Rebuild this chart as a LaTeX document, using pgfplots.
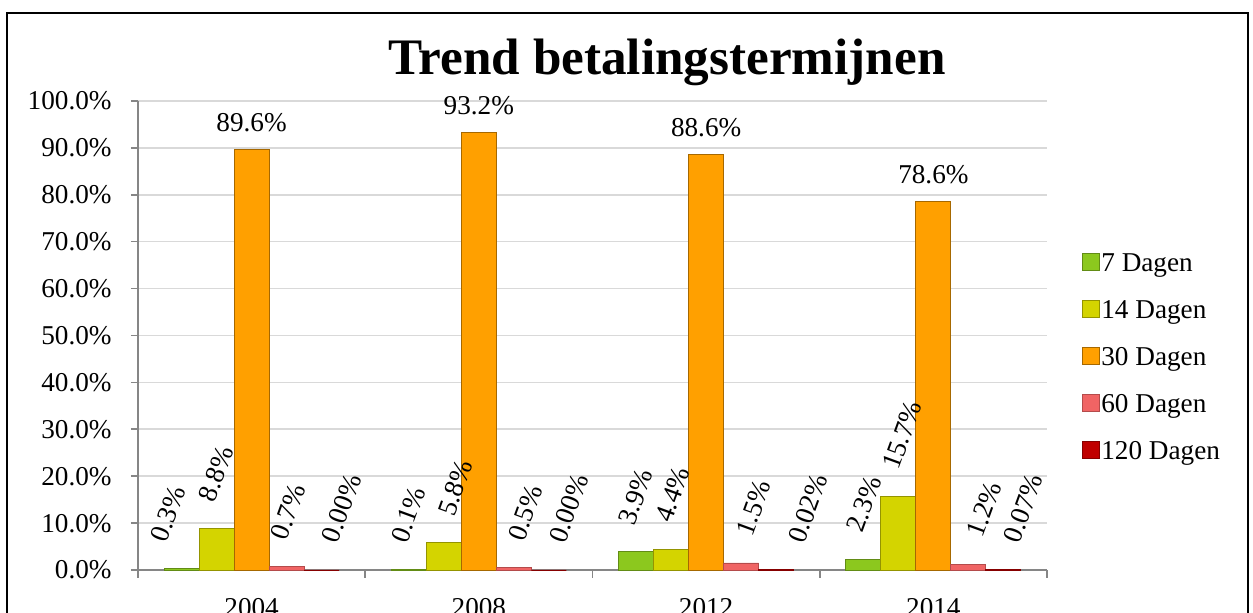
\documentclass[border=0pt]{standalone}
\usepackage{fontspec}
\setmainfont{Liberation Serif}
\usepackage{pgfplots}
\usepackage{pgfplotstable}
\pgfplotsset{compat=1.18}
\definecolor{d7}{HTML}{8CC81E}
\definecolor{d14}{HTML}{D4D400}
\definecolor{d30}{HTML}{FFA000}
\definecolor{d60}{HTML}{F06464}
\definecolor{d120}{HTML}{C00000}
\definecolor{axgray}{HTML}{868686}
\definecolor{gridgray}{HTML}{D9D9D9}

% x = category, y = percentage, dx = label shift (pt)
\pgfplotstableread{
x y dx
0 0.3 -7.5
1 0.1 -1
2 3.9 -1
3 2.3 -0.5
}\dseven
\pgfplotstableread{
x y dx
0 8.8 -1
1 5.8 5
2 4.4 0
3 15.7 0
}\dfourteen
\pgfplotstableread{
x y dx
0 89.6 0
1 93.2 0
2 88.6 0
3 78.6 0
}\dthirty
\pgfplotstableread{
x y dx
0 0.7 0
1 0.5 5
2 1.5 5.5
3 1.2 7
}\dsixty
\pgfplotstableread{
x y dx
0 0.00 8
1 0.00 8
2 0.02 14
3 0.07 8
}\dhundredtwenty

\newcommand{\lbl}{\fontsize{13.6}{16}\selectfont}
\pgfplotsset{
  rotlabel/.style={point meta=y,
    visualization depends on={\thisrow{dx} \as \dx},
    nodes near coords={\pgfmathprintnumber[fixed,fixed zerofill,precision=#1]{\pgfplotspointmeta}\%},
    every node near coord/.append style={font=\lbl, inner sep=0pt,
      anchor=base west, xshift=\dx pt, yshift=12.5pt, rotate=70}},
  flatlabel/.style={point meta=y,
    nodes near coords={\pgfmathprintnumber[fixed,fixed zerofill,precision=1]{\pgfplotspointmeta}\%},
    every node near coord/.append style={font=\lbl, inner sep=0pt,
      anchor=base, yshift=9pt}},
}

\begin{document}
\begin{tikzpicture}
\useasboundingbox (0,0) rectangle (626.5pt,306.5pt);
\draw[black, line width=0.7pt] (3.5pt,300pt) rectangle (624pt,-10pt);
\begin{axis}[
    at={(69pt,21.5pt)}, anchor=south west,
    scale only axis,
    width=454.5pt, height=234.5pt,
    ybar=0pt, bar width=17.5pt,
    xmin=-0.5, xmax=3.5, ymin=0, ymax=100,
    axis x line*=bottom, axis y line*=left,
    axis line style={axgray, line width=0.8pt, -},
    xtick={0,1,2,3},
    xticklabels={2004,2008,2012,2014},
    major x tick style={draw=none},
    minor xtick={-0.5,0.5,1.5,2.5,3.5},
    minor x tick style={axgray, line width=0.8pt},
    minor tick length=4pt,
    ytick={0,10,...,100},
    yticklabels={0.0\%,10.0\%,20.0\%,30.0\%,40.0\%,50.0\%,60.0\%,70.0\%,80.0\%,90.0\%,100.0\%},
    major y tick style={axgray, line width=0.8pt},
    major tick length=3.5pt,
    tick align=outside,
    ymajorgrids, grid style={gridgray, line width=0.8pt},
    /pgf/number format/assume math mode=true,
    yticklabel style={font=\lbl, inner sep=0pt, anchor=base east, xshift=-9.5pt, yshift=-4.5pt},
    xticklabel style={font=\lbl, inner sep=0pt, anchor=base, yshift=-20pt},
    clip=false,
    title={\bfseries Trend betalingstermijnen},
    title style={font=\fontsize{25.6}{30}\selectfont, at={(0.582,1.051)}, anchor=base, yshift=-4.5pt, inner sep=0pt},
    legend style={draw=none, fill=none, at={(1.031,0.689)}, anchor=north west,
      font=\lbl, row sep=11pt, nodes={inner sep=1pt}},
    legend cell align=left,
    legend image code/.code={\draw[#1, bar shift=0pt] (0pt,-3.5pt) rectangle (8.5pt,5pt);},
]
\addplot[fill=d7, draw=d7!70!black, rotlabel=1] table[x=x, y=y] {\dseven};
\addlegendentry{7 Dagen}
\addplot[fill=d14, draw=d14!70!black, rotlabel=1] table[x=x, y=y] {\dfourteen};
\addlegendentry{14 Dagen}
\addplot[fill=d30, draw=d30!65!black, flatlabel] table[x=x, y=y] {\dthirty};
\addlegendentry{30 Dagen}
\addplot[fill=d60, draw=d60!75!black, rotlabel=1] table[x=x, y=y] {\dsixty};
\addlegendentry{60 Dagen}
\addplot[fill=d120, draw=d120!70!black, rotlabel=2] table[x=x, y=y] {\dhundredtwenty};
\addlegendentry{120 Dagen}
\end{axis}
\end{tikzpicture}
\end{document}
